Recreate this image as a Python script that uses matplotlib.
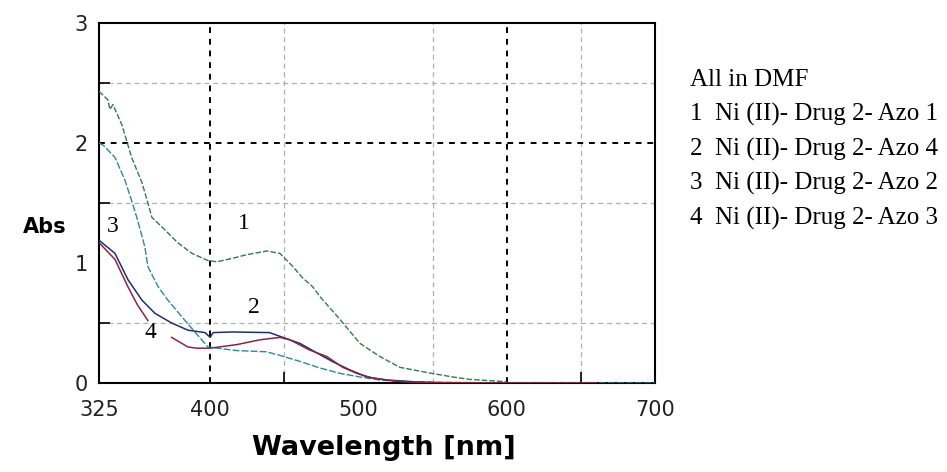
import numpy as np
import matplotlib.pyplot as plt

# ---------------------------------------------------------------------------
# data (wavelength in nm, absorbance)
# ---------------------------------------------------------------------------
wl_1 = [325, 331, 332.4, 334.4, 340.5, 347, 354, 358, 360.7, 367.5, 378, 387.7,
        398.5, 404.6, 415.4, 424.8, 438.3, 447, 455.8, 462, 469.3, 474, 487.5,
        501, 514.5, 528, 549.5, 563.7, 575, 594, 600]
abs_1 = [2.43, 2.36, 2.28, 2.32, 2.15, 1.88, 1.67, 1.50, 1.38, 1.30, 1.17, 1.08,
         1.02, 1.01, 1.04, 1.07, 1.10, 1.08, 0.97, 0.88, 0.80, 0.72, 0.53,
         0.33, 0.22, 0.13, 0.08, 0.05, 0.03, 0.015, 0.01]

# teal curve, starts near 2.0
wl_t = [325, 328, 335.8, 342.5, 347, 351, 356, 358, 365, 371.5, 381, 390, 398.5,
        405, 418, 438, 447, 460.5, 474, 487.5, 501, 514.5, 530, 560, 600, 660, 700]
abs_t = [2.00, 1.98, 1.88, 1.69, 1.52, 1.36, 1.13, 0.97, 0.80, 0.69, 0.55, 0.42,
         0.30, 0.29, 0.27, 0.26, 0.23, 0.18, 0.125, 0.08, 0.05, 0.025, 0.012,
         0.005, 0.0, 0.0, 0.0]

# navy curve, starts near 1.2
wl_n = [325, 335.8, 344.6, 354, 362.8, 374, 385, 396.5, 400, 402, 415, 440, 449,
        460.5, 472, 483, 494, 505.7, 519, 540, 560]
abs_n = [1.19, 1.08, 0.86, 0.69, 0.58, 0.50, 0.44, 0.42, 0.38, 0.42, 0.425,
         0.42, 0.38, 0.33, 0.25, 0.175, 0.11, 0.05, 0.025, 0.008, 0.0]

# maroon curve, broken where label 4 sits
wl_r = [325, 335.8, 344.6, 351, 358, 366, 374, 385, 391, 400, 418, 433.6, 447,
        453.8, 467, 478.7, 489.5, 499, 509.8, 525, 545, 600, 660]
abs_r = [1.17, 1.03, 0.80, 0.65, 0.52, np.nan, 0.38, 0.30, 0.29, 0.29, 0.32,
         0.36, 0.38, 0.36, 0.275, 0.22, 0.13, 0.08, 0.04, 0.015, 0.003, 0.0, 0.0]

legend_lines = ['All in DMF',
                '1  Ni (II)- Drug 2- Azo 1',
                '2  Ni (II)- Drug 2- Azo 4',
                '3  Ni (II)- Drug 2- Azo 2',
                '4  Ni (II)- Drug 2- Azo 3']

# ---------------------------------------------------------------------------
fig = plt.figure(figsize=(9.47, 4.72), dpi=100)
ax = fig.add_axes([0.1045, 0.1886, 0.5872, 0.7627])

# grid: heavy at 400/600 and 2, light elsewhere
for x in [450, 550, 650]:
    ax.axvline(x, color='#b0b0b0', ls=(0, (4, 3)), lw=0.9, zorder=1)
for y in [0.5, 1.5, 2.5]:
    ax.axhline(y, color='#b0b0b0', ls=(0, (4, 3)), lw=0.9, zorder=1)
for x in [400, 600]:
    ax.axvline(x, color='black', ls=(0, (3, 3)), lw=1.4, zorder=1)
ax.axhline(2, color='black', ls=(0, (3, 3)), lw=1.4, zorder=1)

ax.plot(wl_1, abs_1, color='#2f7d4c', lw=1.0, ls=(0, (4, 1.5)), zorder=3)
ax.plot(wl_t, abs_t, color='#2b8a98', lw=1.0, ls=(0, (5, 1.5)), zorder=3)
ax.plot(wl_n, abs_n, color='#1f2f6e', lw=1.1, zorder=3)
ax.plot(wl_r, abs_r, color='#8a2447', lw=1.1, zorder=3)

# curve numbers
lab_kw = dict(fontsize=17, family='Liberation Serif', ha='center', va='center')
ax.text(423, 1.33, '1', **lab_kw)
ax.text(429.5, 0.63, '2', **lab_kw)
ax.text(334.4, 1.30, '3', **lab_kw)
ax.text(359.4, 0.42, '4', **lab_kw)

ax.set_xlim(325, 700)
ax.set_ylim(0, 3)
ax.set_xticks([325, 400, 500, 600, 700])
ax.set_yticks([0, 1, 2, 3])
ax.set_xticks([400, 450, 600, 650], minor=True)
ax.set_yticks([0.5, 1.5, 2, 2.5], minor=True)
ax.tick_params(which='major', length=0, labelsize=15)
ax.tick_params(axis='x', which='major', pad=12)
ax.tick_params(axis='y', which='major', pad=8)
ax.tick_params(which='minor', direction='in', length=8, width=1.2)
for lab in ax.get_xticklabels() + ax.get_yticklabels():
    lab.set_color('#222222')
for s in ax.spines.values():
    s.set_linewidth(1.5)

fig.text(67 / 947, 1 - 227 / 472, 'Abs', fontsize=15, fontweight='bold',
         ha='right', va='center')
fig.text(384 / 947, 1 - 448 / 472, 'Wavelength [nm]', fontsize=19.5,
         fontweight='bold', ha='center', va='center')

for i, line in enumerate(legend_lines):
    fig.text(690 / 947, 1 - (80 + 34.5 * i) / 472, line, fontsize=18,
             family='Liberation Serif', ha='left', va='center')

fig.savefig('out.png', dpi=100)
